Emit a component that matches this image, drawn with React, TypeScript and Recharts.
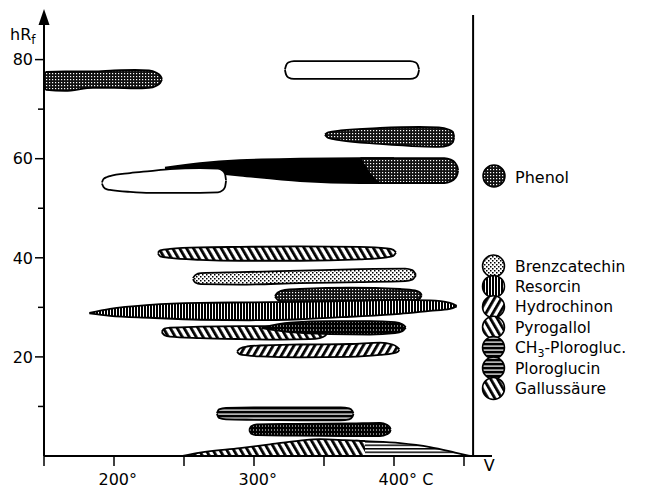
import React from "react";
import { ComposedChart, Area, XAxis, YAxis, ReferenceLine, ReferenceDot, Legend } from "recharts";

// [temperature °C, lower hRf, upper hRf]
type Pt = [number, number, number];

const phenolBand76: Pt[] = [[150.3, 74.6, 76.9], [151.5, 73.9, 77.5], [165, 73.7, 77.6], [185, 74.3, 77.6], [200, 74.3, 77.8], [215, 74.2, 77.9], [225, 74.3, 77.8], [230, 74.7, 77.4], [233, 75.3, 76.8], [234.3, 76.0, 76.1]];
const whitePill78: Pt[] = [[322.1, 77.9, 78.0], [323, 76.9, 78.9], [324.5, 76.4, 79.4], [328.5, 76.1, 79.7], [411.5, 76.1, 79.7], [415.5, 76.4, 79.4], [417, 76.9, 78.9], [417.9, 77.9, 78.0]];
const phenolBand64: Pt[] = [[350.7, 64.8, 64.9], [353, 64.2, 65.3], [362, 63.7, 65.7], [390, 63.0, 66.2], [418, 62.5, 66.4], [432, 62.4, 66.3], [439, 62.7, 65.9], [442, 63.3, 65.4], [443, 64.3, 64.4]];
const blackWedge58: Pt[] = [[236.4, 58.0, 58.2], [261.4, 57.4, 59.1], [290, 56.6, 59.7], [332.9, 55.5, 60.0], [375.7, 55.1, 60.1], [400, 55.1, 60.1]];
const phenolBand57: Pt[] = [[376, 60.0, 60.1], [391, 55.1, 60.1], [436, 55.1, 60.1], [440.5, 55.4, 59.8], [443.5, 56.0, 59.2], [445.2, 56.8, 58.4], [445.8, 57.6, 57.7]];
const whitePill55: Pt[] = [[191.4, 55.0, 55.2], [192.5, 54.3, 55.9], [195, 53.8, 56.3], [197.1, 53.7, 56.5], [211.4, 53.3, 57.1], [225.7, 53.1, 57.5], [240, 53.1, 57.9], [261.4, 53.1, 58.1], [274.3, 53.2, 58.0], [277.5, 53.6, 57.6], [279.3, 54.3, 56.9], [280, 55.5, 55.6]];
const pyrogallol41: Pt[] = [[231.4, 40.9, 41.0], [233, 40.3, 41.5], [240, 40.0, 41.8], [261.4, 39.6, 42.1], [290, 39.4, 42.2], [332.9, 39.4, 42.3], [375.7, 39.7, 42.2], [395, 40.1, 41.9], [399.5, 40.4, 41.6], [401.4, 41.0, 41.1]];
const brenzcatechin36: Pt[] = [[256.4, 35.7, 35.9], [258, 35.0, 36.5], [262, 34.7, 36.9], [290, 34.6, 37.1], [332.9, 34.9, 37.4], [375.7, 35.1, 37.7], [408, 35.3, 37.8], [413, 35.6, 37.5], [415.7, 36.5, 36.6]];
const gridBand32: Pt[] = [[315, 32.2, 32.3], [317, 31.5, 33.0], [322, 31.0, 33.5], [332.9, 30.9, 33.7], [368.6, 30.9, 34.0], [404.3, 31.1, 33.7], [415, 31.4, 33.4], [418.5, 31.8, 33.0], [419.8, 32.4, 32.5]];
const resorcin29: Pt[] = [[182.4, 28.8, 28.9], [197.1, 28.3, 29.7], [225.7, 27.9, 30.5], [261.4, 27.5, 30.9], [297.1, 27.4, 31.0], [332.9, 27.6, 31.1], [368.6, 28.1, 31.3], [404.3, 28.7, 31.5], [425.7, 29.3, 31.4], [440, 29.7, 30.9], [444.8, 30.2, 30.3]];
const pyrogallol25: Pt[] = [[234.1, 25.0, 25.1], [236, 24.4, 25.7], [240, 24.1, 25.9], [261.4, 23.8, 26.1], [290, 23.6, 26.2], [318.6, 23.5, 26.2], [340, 23.6, 25.9], [347, 23.8, 25.5], [351, 24.3, 25.0], [352, 24.7, 24.8]];
const darkBand26: Pt[] = [[305.7, 25.8, 25.9], [325.7, 25.0, 26.9], [354.3, 24.6, 27.2], [382.9, 24.5, 27.2], [400.7, 24.8, 27.0], [406, 25.2, 26.6], [408.4, 25.9, 26.0]];
const hydrochinon21: Pt[] = [[287.9, 21.0, 21.1], [290, 20.5, 21.7], [295, 20.3, 22.1], [304.3, 20.1, 22.3], [332.9, 19.9, 22.5], [368.6, 20.0, 22.6], [390, 20.4, 22.9], [399, 20.7, 22.5], [402.5, 21.0, 21.9], [403.8, 21.4, 21.5]];
const ch3Ploroglucin8: Pt[] = [[273.5, 8.5, 8.6], [275, 7.7, 9.4], [280, 7.4, 9.7], [300, 7.3, 9.8], [340, 7.2, 9.8], [362, 7.2, 9.8], [368, 7.4, 9.6], [370.3, 7.9, 9.1], [371, 8.5, 8.6]];
const ploroglucin5: Pt[] = [[296.6, 5.2, 5.3], [298, 4.5, 6.0], [302, 4.2, 6.4], [330, 4.1, 6.5], [370, 4.0, 6.6], [390, 4.0, 6.7], [395, 4.4, 6.3], [397, 4.8, 5.8], [397.6, 5.3, 5.4]];
const gallusLines0: Pt[] = [[372.4, 0, 3.1], [379.3, 0, 3.0], [404.3, 0, 2.6], [425.7, 0, 1.8], [443.6, 0, 0.7], [454.3, 0, 0]];
const gallussaeure0: Pt[] = [[249.1, 0, 0], [261.4, 0, 0.7], [290, 0, 1.6], [310, 0, 2.3], [332.9, 0, 3.1], [347.1, 0, 3.4], [365, 0, 3.2], [379.3, 0, 3.0]];

const xTicks = [150, 200, 250, 300, 350, 400, 450, 468];
const xTickText: Record<number, string> = { 200: "200°", 300: "300°", 400: "400° C", 468: "V" };
const yTicks = [10, 20, 30, 40, 50, 60, 70, 80];
const yTickText: Record<number, string> = { 20: "20", 40: "40", 60: "60", 80: "80" };
const legendNames = ["Brenzcatechin", "Resorcin", "Hydrochinon", "Pyrogallol", "CH3-Plorogluc.", "Ploroglucin", "Gallussäure"];
const legendFills = ["url(#pDots)", "url(#pVlines)", "url(#pFwd)", "url(#pBack)", "url(#pHlines)", "url(#pHlines)", "url(#pBack)"];

const series: { id: string; pts: Pt[]; fill: string }[] = [
  { id: "phenolBand76", pts: phenolBand76, fill: "url(#pGrid)" },
  { id: "whitePill78", pts: whitePill78, fill: "#fff" },
  { id: "phenolBand64", pts: phenolBand64, fill: "url(#pGrid)" },
  { id: "blackWedge58", pts: blackWedge58, fill: "#000" },
  { id: "phenolBand57", pts: phenolBand57, fill: "url(#pGrid)" },
  { id: "whitePill55", pts: whitePill55, fill: "#fff" },
  { id: "pyrogallol41", pts: pyrogallol41, fill: "url(#pBack)" },
  { id: "brenzcatechin36", pts: brenzcatechin36, fill: "url(#pDots)" },
  { id: "gridBand32", pts: gridBand32, fill: "url(#pGrid)" },
  { id: "resorcin29", pts: resorcin29, fill: "url(#pVlines)" },
  { id: "pyrogallol25", pts: pyrogallol25, fill: "url(#pBack)" },
  { id: "darkBand26", pts: darkBand26, fill: "url(#pHdots)" },
  { id: "hydrochinon21", pts: hydrochinon21, fill: "url(#pFwd)" },
  { id: "ch3Ploroglucin8", pts: ch3Ploroglucin8, fill: "url(#pHlines)" },
  { id: "ploroglucin5", pts: ploroglucin5, fill: "url(#pHdots)" },
  { id: "gallusLines0", pts: gallusLines0, fill: "url(#pHlinesLight)" },
  { id: "gallussaeure0", pts: gallussaeure0, fill: "url(#pBack)" },
];

const toData = (pts: Pt[]) => pts.map(([x, lo, hi]) => ({ x, r: [lo, hi] }));

const FONT = "DejaVu Sans";

const XTick = (props: any) => {
  const { x, y, payload } = props;
  const v = payload.value;
  if (v === 468) {
    return (
      <text x={x} y={y + 15} textAnchor="middle" fontSize={16} fontFamily={FONT} fill="#000">V</text>
    );
  }
  const label = xTickText[v];
  return (
    <g>
      <line x1={x} y1={y} x2={x} y2={y + 10} stroke="#000" strokeWidth={1.5} />
      {label ? (
        <text x={x - 15.5} y={y + 29} fontSize={16} fontFamily={FONT} fill="#000">{label}</text>
      ) : null}
    </g>
  );
};

const YTick = (props: any) => {
  const { x, y, payload } = props;
  const v = payload.value;
  const label = yTickText[v];
  const len = label ? 9 : 6;
  return (
    <g>
      <line x1={x - len} y1={y} x2={x} y2={y} stroke="#000" strokeWidth={1.5} />
      {label ? (
        <text x={x - 11} y={y} dy="0.36em" textAnchor="end" fontSize={16} fontFamily={FONT} fill="#000">{label}</text>
      ) : null}
    </g>
  );
};

const LegendBox = () => (
  <svg width={653} height={488} style={{ position: "absolute", left: 0, top: 0 }}>
    <circle cx={494} cy={176} r={11} fill="url(#pGrid)" stroke="#000" strokeWidth={1.5} />
    <text x={515} y={183} fontSize={16} fontFamily={FONT} fill="#000">Phenol</text>
    {legendNames.map((name, i) => {
      const cy = 266 + i * 20.4;
      return (
        <g key={name}>
          <circle cx={493.5} cy={cy} r={11} fill={legendFills[i]} stroke="#000" strokeWidth={1.5} />
          {name.startsWith("CH3") ? (
            <text x={515} y={cy + 5.5} fontSize={15.5} fontFamily={FONT} fill="#000">
              CH<tspan dy={4} fontSize={11}>3</tspan><tspan dy={-4}>{name.slice(3)}</tspan>
            </text>
          ) : (
            <text x={515} y={cy + 5.5} fontSize={15.5} fontFamily={FONT} fill="#000">{name}</text>
          )}
        </g>
      );
    })}
  </svg>
);

const Patterns = () => (
  <svg width={0} height={0} style={{ position: "absolute" }}>
    <defs>
      <pattern id="pGrid" width={3} height={3} patternUnits="userSpaceOnUse">
        <rect width={3} height={3} fill="#111" />
        <rect x={1} y={1} width={1.2} height={1.2} fill="#fff" />
      </pattern>
      <pattern id="pHdots" width={3} height={4} patternUnits="userSpaceOnUse">
        <rect width={3} height={4} fill="#000" />
        <rect x={1} y={1.5} width={1} height={1} fill="#fff" />
      </pattern>
      <pattern id="pHlines" width={4} height={4} patternUnits="userSpaceOnUse">
        <rect width={4} height={4} fill="#000" />
        <rect x={0} y={1.5} width={4} height={1.2} fill="#fff" />
      </pattern>
      <pattern id="pHlinesLight" width={4} height={3.5} patternUnits="userSpaceOnUse">
        <rect width={4} height={3.5} fill="#fff" />
        <rect x={0} y={0} width={4} height={1.5} fill="#000" />
      </pattern>
      <pattern id="pVlines" width={3} height={3} patternUnits="userSpaceOnUse">
        <rect width={3} height={3} fill="#fff" />
        <rect x={0} y={0} width={2} height={3} fill="#000" />
      </pattern>
      <pattern id="pBack" width={6} height={6} patternUnits="userSpaceOnUse" patternTransform="rotate(-30)">
        <rect width={6} height={6} fill="#fff" />
        <rect x={0} y={0} width={2.8} height={6} fill="#000" />
      </pattern>
      <pattern id="pFwd" width={6} height={6} patternUnits="userSpaceOnUse" patternTransform="rotate(30)">
        <rect width={6} height={6} fill="#fff" />
        <rect x={0} y={0} width={2.8} height={6} fill="#000" />
      </pattern>
      <pattern id="pDots" width={4} height={4} patternUnits="userSpaceOnUse">
        <rect width={4} height={4} fill="#fff" />
        <rect x={0} y={0} width={1.5} height={1.5} fill="#000" />
        <rect x={2} y={2} width={1.5} height={1.5} fill="#000" />
      </pattern>
    </defs>
  </svg>
);

export default function App() {
  return (
    <div style={{ position: "absolute", left: 0, top: 0, width: 653, height: 488, background: "#fff", fontFamily: FONT }}>
      <Patterns />
      <ComposedChart width={653} height={488} margin={{ top: 15, right: 161, bottom: 0, left: 0 }}>
        <XAxis
          type="number"
          dataKey="x"
          domain={[150, 470]}
          allowDataOverflow
          ticks={xTicks}
          interval={0}
          height={32}
          tickSize={0}
          tickMargin={0}
          tickLine={false}
          axisLine={{ stroke: "#000", strokeWidth: 2 }}
          tick={<XTick />}
        />
        <YAxis
          type="number"
          domain={[0, 89]}
          allowDataOverflow
          ticks={yTicks}
          interval={0}
          width={44}
          tickSize={0}
          tickMargin={0}
          tickLine={false}
          axisLine={{ stroke: "#000", strokeWidth: 2 }}
          tick={<YTick />}
          label={{
            content: () => (
              <text x={10} y={40} fontSize={16} fontFamily={FONT} fill="#000">
                hR<tspan dy={4} fontSize={12}>f</tspan>
              </text>
            ),
          }}
        />
        {series.map((s) => (
          <Area
            key={s.id}
            name={s.id}
            data={toData(s.pts)}
            dataKey="r"
            type="monotone"
            stroke="#000"
            strokeWidth={1.8}
            fill={s.fill}
            fillOpacity={1}
            dot={false}
            activeDot={false}
            legendType="none"
            isAnimationActive={false}
          />
        ))}
        <ReferenceLine x={456.5} stroke="#000" strokeWidth={2} ifOverflow="visible" />
        <ReferenceDot
          x={150}
          y={89}
          ifOverflow="visible"
          shape={(p: any) => (
            <path d={`M${p.cx},${p.cy - 6} L${p.cx + 5.5},${p.cy + 10} L${p.cx - 5.5},${p.cy + 10} Z`} fill="#000" />
          )}
        />
        <Legend
          layout="vertical"
          align="center"
          verticalAlign="middle"
          wrapperStyle={{ left: 0, top: 0, width: 653, height: 488, pointerEvents: "none" }}
          content={() => <LegendBox />}
        />
      </ComposedChart>
    </div>
  );
}
